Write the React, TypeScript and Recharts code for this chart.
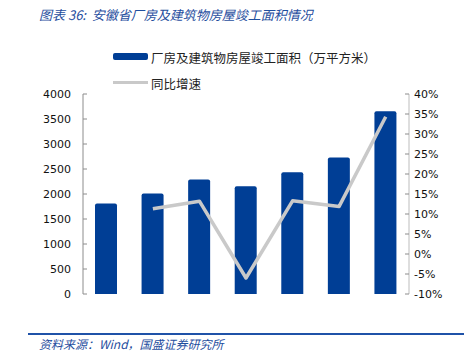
import { Bar, ComposedChart, Line, XAxis, YAxis } from "recharts";

const years = ["2016", "2017", "2018", "2019", "2020", "2021", "2022"];
const area = [1810, 2010, 2290, 2155, 2435, 2730, 3655];
const yoy = [null, 11.3, 13.2, -6.0, 13.3, 11.9, 34.3];
const leftTicks = [0, 500, 1000, 1500, 2000, 2500, 3000, 3500, 4000];
const rightTicks = [-10, -5, 0, 5, 10, 15, 20, 25, 30, 35, 40];
const boundaryTicks = [1, 2, 3, 4, 5, 6];

const data = years.map((year, i) => ({ year, area: area[i], yoy: yoy[i] }));

const BLUE = "#003E95";
const GREY = "#C9C9C9";
const AXIS = "#8C8C8C";
const TITLE = "#1F4E9E";
const axisFont = { fill: "#111", fontSize: 11, fontFamily: "'DejaVu Sans', sans-serif" };
const cjk = "'Noto Sans CJK SC', sans-serif";

export default function App() {
  return (
    <div
      style={{
        position: "absolute",
        top: 0,
        left: 0,
        width: 464,
        height: 356,
        background: "#fff",
        overflow: "hidden",
      }}
    >
      <div
        style={{
          position: "absolute",
          left: 39,
          top: 5,
          fontFamily: cjk,
          fontStyle: "italic",
          fontSize: 13,
          color: TITLE,
          whiteSpace: "nowrap",
        }}
      >
        图表 36:&nbsp; 安徽省厂房及建筑物房屋竣工面积情况
      </div>

      {/* legend */}
      <div style={{ position: "absolute", left: 113, top: 53, width: 35, height: 7, background: BLUE, borderRadius: 2 }} />
      <div
        style={{
          position: "absolute",
          left: 151,
          top: 48,
          fontFamily: cjk,
          fontSize: 12.5,
          color: "#222",
          whiteSpace: "nowrap",
        }}
      >
        厂房及建筑物房屋竣工面积（万平方米）
      </div>
      <div style={{ position: "absolute", left: 113, top: 81, width: 35, height: 3, background: GREY }} />
      <div
        style={{
          position: "absolute",
          left: 151,
          top: 74,
          fontFamily: cjk,
          fontSize: 12.5,
          color: "#222",
          whiteSpace: "nowrap",
        }}
      >
        同比增速
      </div>

      <div style={{ position: "absolute", left: 0, top: 0 }}>
        <ComposedChart
          width={464}
          height={356}
          data={data}
          margin={{ top: 94, right: 15, bottom: 62, left: 23 }}
        >
          <XAxis
            dataKey="year"
            height={0}
            tickLine={false}
            tickSize={6}
            tickMargin={8}
            axisLine={{ stroke: AXIS }}
            tick={axisFont}
            interval={0}
          />
          <XAxis
            xAxisId="edges"
            type="number"
            domain={[0, 7]}
            ticks={boundaryTicks}
            height={0}
            axisLine={false}
            tick={false}
            tickSize={-4}
            tickLine={{ stroke: AXIS }}
          />
          <YAxis
            yAxisId="left"
            width={60}
            domain={[0, 4000]}
            ticks={leftTicks}
            interval={0}
            tickSize={-4}
            tickMargin={16}
            axisLine={{ stroke: AXIS }}
            tickLine={{ stroke: AXIS }}
            tick={axisFont}
          />
          <YAxis
            yAxisId="right"
            orientation="right"
            width={40}
            domain={[-10, 40]}
            ticks={rightTicks}
            interval={0}
            tickSize={-4}
            tickMargin={9}
            tickFormatter={(v) => `${v}%`}
            axisLine={{ stroke: "#BDBDBD" }}
            tickLine={{ stroke: AXIS }}
            tick={{ ...axisFont, textAnchor: "start" }}
          />
          <Bar
            yAxisId="left"
            dataKey="area"
            fill={BLUE}
            barSize={22}
            radius={[2, 2, 0, 0]}
            isAnimationActive={false}
          />
          <Line
            yAxisId="right"
            dataKey="yoy"
            stroke={GREY}
            strokeWidth={3.5}
            dot={false}
            activeDot={false}
            strokeLinejoin="round"
            isAnimationActive={false}
          />
        </ComposedChart>
      </div>

      <div style={{ position: "absolute", left: 28, top: 333, width: 436, height: 2, background: "#1F52A8" }} />
      <div
        style={{
          position: "absolute",
          left: 39,
          top: 335,
          fontFamily: cjk,
          fontStyle: "italic",
          fontSize: 12,
          color: TITLE,
          whiteSpace: "nowrap",
        }}
      >
        资料来源：Wind，国盛证券研究所
      </div>
    </div>
  );
}
